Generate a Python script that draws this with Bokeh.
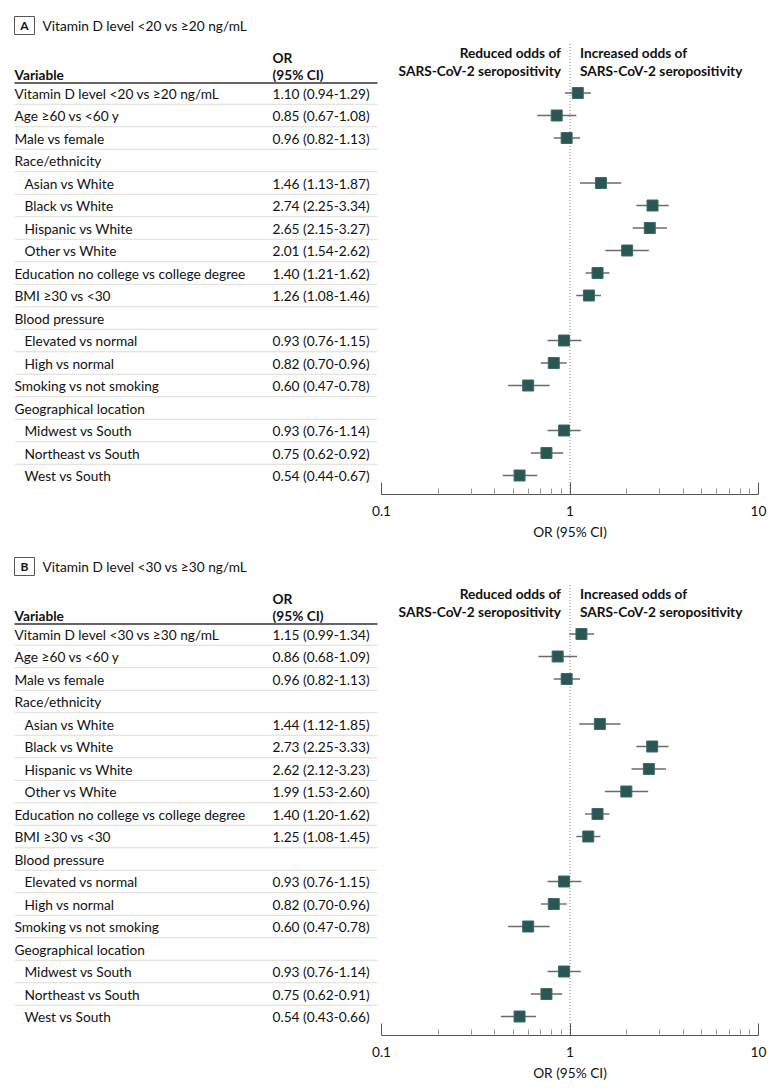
from bokeh.plotting import figure
from bokeh.models import Range1d, LogScale, LogAxis, FixedTicker, CustomJSTickFormatter
from bokeh.layouts import column
from bokeh.embed import file_html
from bokeh.resources import INLINE
from bokeh.core.properties import value

# ---------------- data ----------------
panel_letters = ["A", "B"]
panel_titles = ["Vitamin D level <20 vs \u226520 ng/mL", "Vitamin D level <30 vs \u226530 ng/mL"]

variables_common = [
    None,
    "Age \u226560 vs <60 y",
    "Male vs female",
    "Race/ethnicity",
    "Asian vs White",
    "Black vs White",
    "Hispanic vs White",
    "Other vs White",
    "Education no college vs college degree",
    "BMI \u226530 vs <30",
    "Blood pressure",
    "Elevated vs normal",
    "High vs normal",
    "Smoking vs not smoking",
    "Geographical location",
    "Midwest vs South",
    "Northeast vs South",
    "West vs South",
]
indent = [0, 0, 0, 0, 1, 1, 1, 1, 0, 0, 0, 1, 1, 0, 0, 1, 1, 1]

or_a = [1.10, 0.85, 0.96, None, 1.46, 2.74, 2.65, 2.01, 1.40, 1.26, None, 0.93, 0.82, 0.60, None, 0.93, 0.75, 0.54]
lo_a = [0.94, 0.67, 0.82, None, 1.13, 2.25, 2.15, 1.54, 1.21, 1.08, None, 0.76, 0.70, 0.47, None, 0.76, 0.62, 0.44]
hi_a = [1.29, 1.08, 1.13, None, 1.87, 3.34, 3.27, 2.62, 1.62, 1.46, None, 1.15, 0.96, 0.78, None, 1.14, 0.92, 0.67]

or_b = [1.15, 0.86, 0.96, None, 1.44, 2.73, 2.62, 1.99, 1.40, 1.25, None, 0.93, 0.82, 0.60, None, 0.93, 0.75, 0.54]
lo_b = [0.99, 0.68, 0.82, None, 1.12, 2.25, 2.12, 1.53, 1.20, 1.08, None, 0.76, 0.70, 0.47, None, 0.76, 0.62, 0.43]
hi_b = [1.34, 1.09, 1.13, None, 1.85, 3.33, 3.23, 2.60, 1.62, 1.45, None, 1.15, 0.96, 0.78, None, 1.14, 0.91, 0.66]

x_ticks = [0.1, 1, 10]
x_minor_ticks = [0.2, 0.3, 0.4, 0.5, 0.6, 0.7, 0.8, 0.9, 2, 3, 4, 5, 6, 7, 8, 9]
x_label = "OR (95% CI)"
left_header = ["Reduced odds of", "SARS-CoV-2 seropositivity"]
right_header = ["Increased odds of", "SARS-CoV-2 seropositivity"]

# ---------------- layout constants ----------------
FONT = "Lato"
FS = "13.7px"
W = 764
FRAME_H = 486
ROW0 = 84.5
STEP = 22.5
X_VAR = 6
X_IND = 16
X_OR = 264
X_LINE_END = 369
X01 = 373.0          # frame px of OR = 0.1
PX_DEC = 188.5       # px per decade
LO_EXP = -1 - X01 / PX_DEC
HI_EXP = LO_EXP + W / PX_DEC
SQ_COLOR = "#2a5753"
TXT = "#111111"


def base_fig(frame_h, top, bottom):
    p = figure(frame_width=W, frame_height=frame_h,
               x_range=Range1d(0, W), y_range=Range1d(frame_h, 0),
               x_axis_type=None, y_axis_type=None,
               output_backend="svg", toolbar_location=None,
               min_border_left=8, min_border_right=0, min_border_top=top,
               min_border_bottom=bottom, outline_line_color=None,
               background_fill_color="white", border_fill_color="white")
    p.extra_x_ranges = {"or": Range1d(10 ** LO_EXP, 10 ** HI_EXP)}
    p.extra_x_scales = {"or": LogScale()}
    return p


def panel(letter, title, first_var, ors, los, his, top_border):
    p = base_fig(FRAME_H, top_border, 28)

    names = [first_var] + variables_common[1:]
    n = len(names)
    ys = [ROW0 + i * STEP for i in range(n)]
    xs = [X_IND if ind else X_VAR for ind in indent]

    common = dict(text_font=value(FONT), text_font_size=FS, text_baseline="middle", text_color=TXT)

    # panel letter box + title
    p.rect(x=[16], y=[17], width=20, height=18, width_units="screen", height_units="screen",
           fill_color=None, line_color="#555555", line_width=1)
    p.text(x=[16], y=[17], text=[letter], text_align="center", text_font_style="bold",
           **{**common, "text_font_size": "12px"})
    p.text(x=[34], y=[17], text=[title], text_align="left", **common)

    # table header
    p.text(x=[X_VAR], y=[ROW0 - 19], text=["Variable"], text_align="left", text_font_style="bold", **common)
    p.text(x=[X_OR, X_OR], y=[ROW0 - 36, ROW0 - 19], text=["OR", "(95% CI)"], text_align="left",
           text_font_style="bold", **common)
    p.segment(x0=[X_VAR], x1=[X_LINE_END], y0=[ROW0 - 10], y1=[ROW0 - 10],
              line_color="#333333", line_width=1.5)

    # row separators
    sep = [ROW0 + (i + 0.5) * STEP for i in range(n - 1)]
    p.segment(x0=[X_VAR] * len(sep), x1=[X_LINE_END] * len(sep), y0=sep, y1=sep,
              line_color="#dddbd3", line_width=1)

    # table rows
    p.text(x=xs, y=ys, text=names, text_align="left", **common)
    or_txt, or_y = [], []
    for o, l, h, y in zip(ors, los, his, ys):
        if o is not None:
            or_txt.append(f"{o:.2f} ({l:.2f}-{h:.2f})")
            or_y.append(y)
    p.text(x=[X_OR] * len(or_txt), y=or_y, text=or_txt, text_align="left", **common)

    # forest header
    p.text(x=[1, 1], y=[ROW0 - 41, ROW0 - 23], text=left_header, x_range_name="or", x_offset=-9,
           text_align="right", text_font_style="bold", **common)
    p.text(x=[1, 1], y=[ROW0 - 41, ROW0 - 23], text=right_header, x_range_name="or", x_offset=10,
           text_align="left", text_font_style="bold", **common)

    # reference line
    p.segment(x0=[1], x1=[1], y0=[ROW0 - 49], y1=[FRAME_H], x_range_name="or",
              line_color="#9a9a9a", line_width=1.2, line_dash="1 2")

    # whiskers and squares
    fx = [o for o in ors if o is not None]
    fl = [l for l in los if l is not None]
    fh = [h for h in his if h is not None]
    fy = [y for o, y in zip(ors, ys) if o is not None]
    p.segment(x0=fl, x1=fh, y0=fy, y1=fy, x_range_name="or", line_color="#6b6b6b", line_width=1.4)
    p.scatter(x=fx, y=fy, marker="square", size=11, x_range_name="or",
              fill_color=SQ_COLOR, line_color="#3d6b67", line_width=1)

    ax = LogAxis(x_range_name="or", bounds=(0.1, 10),
                 ticker=FixedTicker(ticks=x_ticks, minor_ticks=x_minor_ticks),
                 formatter=CustomJSTickFormatter(code="return String(tick)"))
    ax.axis_line_color = "#555555"
    ax.axis_line_width = 1.2
    ax.major_tick_in = 12
    ax.major_tick_out = 0
    ax.minor_tick_in = 6
    ax.minor_tick_out = 0
    ax.major_tick_line_color = "#555555"
    ax.minor_tick_line_color = "#999999"
    ax.major_label_text_font = FONT
    ax.major_label_text_font_size = FS
    ax.major_label_text_color = TXT
    ax.major_label_standoff = 11
    p.add_layout(ax, "below")
    return p


def axis_title():
    q = base_fig(27, 0, 0)
    q.text(x=[1], y=[9], text=[x_label], x_range_name="or", text_align="center",
           text_baseline="middle", text_font=value(FONT), text_font_size=FS, text_color=TXT)
    return q


pa = panel(panel_letters[0], panel_titles[0], panel_titles[0], or_a, lo_a, hi_a, 8)
pb = panel(panel_letters[1], panel_titles[1], panel_titles[1], or_b, lo_b, hi_b, 0)

layout = column(pa, axis_title(), pb, axis_title(), spacing=0)
open("out.html", "w").write(file_html(layout, INLINE))
